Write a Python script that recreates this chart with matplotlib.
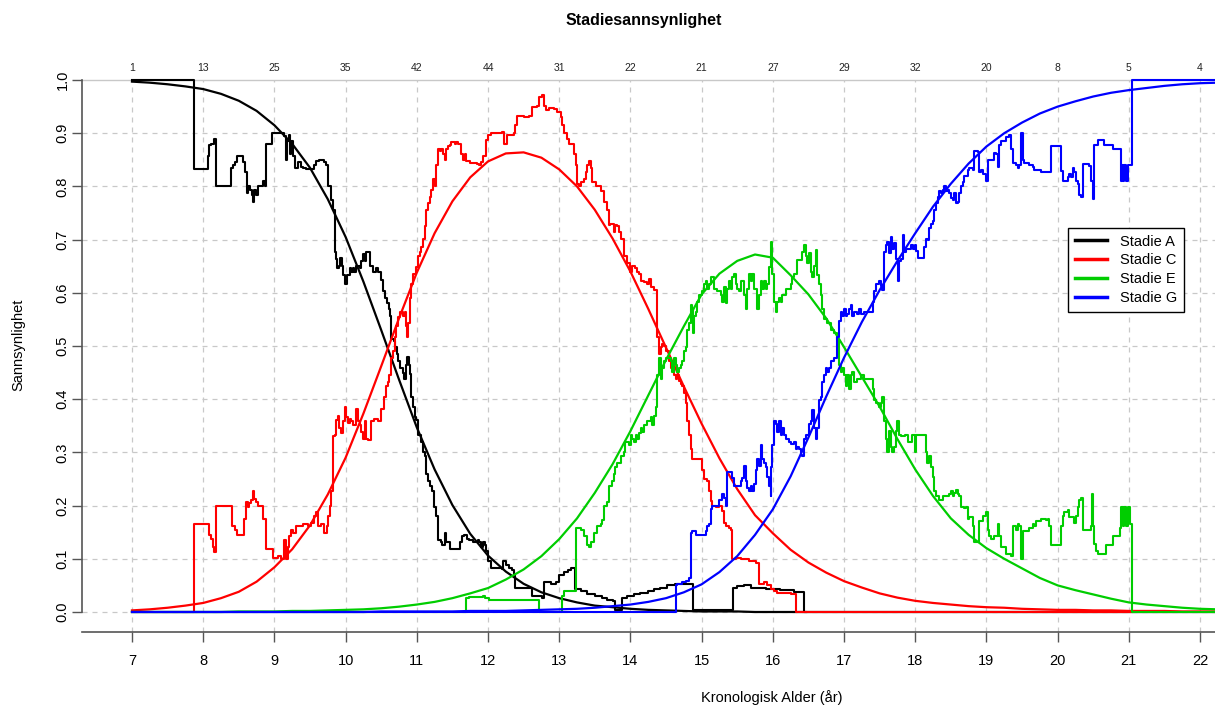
import numpy as np
import matplotlib
matplotlib.use('Agg')
import matplotlib.pyplot as plt
from matplotlib.lines import Line2D

plt.rcParams['font.family'] = ['Liberation Sans', 'DejaVu Sans']

# antall observasjoner per alder (øverst i plottet)
AGES = list(range(7, 23))
COUNTS = [1, 13, 25, 35, 42, 44, 31, 22, 21, 27, 29, 32, 20, 8, 5, 4]

STAGES = ['Stadie A', 'Stadie C', 'Stadie E', 'Stadie G']
COLORS = ['black', '#ff0000', '#00cd00', '#0000ff']

# modellkurver, avlest hvert kvartår fra 7 til 22.25 år
FIT_AGE = np.arange(7.0, 22.26, 0.25)
FIT_A = [0.997, 0.995, 0.992, 0.988, 0.983, 0.974, 0.961, 0.942, 0.915, 0.880,
         0.835, 0.776, 0.705, 0.621, 0.530, 0.437, 0.347, 0.268, 0.201, 0.147,
         0.106, 0.076, 0.053, 0.037, 0.026, 0.018, 0.012, 0.009, 0.006, 0.004,
         0.003, 0.002, 0.001, 0.001, 0.001, 0.0, 0.0, 0.0, 0.0, 0.0,
         0.0, 0.0, 0.0, 0.0, 0.0, 0.0, 0.0, 0.0, 0.0, 0.0,
         0.0, 0.0, 0.0, 0.0, 0.0, 0.0, 0.0, 0.0, 0.0, 0.0,
         0.0, 0.0]
FIT_C = [0.003, 0.005, 0.008, 0.012, 0.017, 0.026, 0.038, 0.057, 0.084, 0.118,
         0.163, 0.221, 0.290, 0.373, 0.462, 0.552, 0.638, 0.712, 0.772, 0.817,
         0.847, 0.862, 0.864, 0.854, 0.832, 0.800, 0.756, 0.702, 0.640, 0.570,
         0.497, 0.424, 0.354, 0.289, 0.231, 0.182, 0.148, 0.117, 0.093, 0.074,
         0.058, 0.046, 0.035, 0.027, 0.021, 0.017, 0.014, 0.011, 0.009, 0.008,
         0.006, 0.005, 0.004, 0.004, 0.003, 0.003, 0.002, 0.002, 0.002, 0.001,
         0.001, 0.001]
FIT_E = [0.0, 0.0, 0.0, 0.0, 0.0, 0.0, 0.001, 0.001, 0.001, 0.002,
         0.002, 0.003, 0.004, 0.005, 0.007, 0.010, 0.014, 0.019, 0.026, 0.035,
         0.045, 0.061, 0.080, 0.105, 0.137, 0.176, 0.224, 0.278, 0.340, 0.407,
         0.474, 0.537, 0.597, 0.636, 0.660, 0.672, 0.666, 0.633, 0.597, 0.552,
         0.498, 0.442, 0.386, 0.325, 0.268, 0.218, 0.176, 0.145, 0.120, 0.100,
         0.082, 0.064, 0.050, 0.041, 0.033, 0.025, 0.018, 0.014, 0.011, 0.008,
         0.006, 0.005]
FIT_G = [0.0, 0.0, 0.0, 0.0, 0.0, 0.0, 0.0, 0.0, 0.0, 0.0,
         0.0, 0.0, 0.0, 0.0, 0.001, 0.001, 0.001, 0.001, 0.001, 0.002,
         0.002, 0.002, 0.003, 0.004, 0.005, 0.006, 0.008, 0.011, 0.014, 0.019,
         0.026, 0.037, 0.052, 0.075, 0.105, 0.145, 0.193, 0.255, 0.328, 0.405,
         0.478, 0.545, 0.605, 0.660, 0.712, 0.762, 0.805, 0.843, 0.875, 0.900,
         0.920, 0.937, 0.950, 0.960, 0.969, 0.976, 0.981, 0.985, 0.989, 0.992,
         0.994, 0.995]

# glidende andeler (alder, andel), trappeform
STEP_A = [
    (7.0, 1.000), (7.876, 0.833), (8.063, 0.857), (8.087, 0.877), (8.11, 0.880),
    (8.15, 0.889), (8.18, 0.800), (8.39, 0.834), (8.414, 0.840), (8.44, 0.846),
    (8.48, 0.857), (8.56, 0.846), (8.59, 0.827), (8.61, 0.788), (8.625, 0.800),
    (8.66, 0.793), (8.68, 0.783), (8.705, 0.770), (8.72, 0.793), (8.74, 0.783),
    (8.765, 0.800), (8.84, 0.810), (8.87, 0.800), (8.88, 0.880), (8.96, 0.900),
    (9.14, 0.895), (9.16, 0.850), (9.18, 0.886), (9.20, 0.896), (9.22, 0.860),
    (9.24, 0.886), (9.26, 0.857), (9.29, 0.834), (9.33, 0.846), (9.37, 0.837),
    (9.40, 0.834), (9.445, 0.833), (9.515, 0.833), (9.56, 0.841), (9.59, 0.847),
    (9.625, 0.850), (9.70, 0.846), (9.73, 0.840), (9.75, 0.800), (9.79, 0.790),
    (9.80, 0.775), (9.83, 0.755), (9.845, 0.676), (9.87, 0.663), (9.883, 0.646),
    (9.905, 0.650), (9.925, 0.666), (9.95, 0.650), (9.963, 0.633), (9.995, 0.616),
    (10.02, 0.633), (10.056, 0.646), (10.08, 0.640), (10.10, 0.646), (10.125, 0.640),
    (10.15, 0.650), (10.20, 0.646), (10.22, 0.660), (10.244, 0.673), (10.27, 0.660),
    (10.29, 0.676), (10.347, 0.650), (10.38, 0.640), (10.42, 0.646), (10.45, 0.640),
    (10.50, 0.624), (10.525, 0.603), (10.56, 0.590), (10.585, 0.580), (10.61, 0.570),
    (10.63, 0.557), (10.64, 0.514), (10.68, 0.510), (10.70, 0.498), (10.72, 0.485),
    (10.735, 0.471), (10.76, 0.458), (10.806, 0.450), (10.82, 0.438), (10.843, 0.464),
    (10.867, 0.480), (10.885, 0.464), (10.90, 0.448), (10.923, 0.405), (10.946, 0.386),
    (10.97, 0.366), (10.993, 0.360), (11.016, 0.333), (11.063, 0.320), (11.087, 0.300),
    (11.11, 0.293), (11.133, 0.260), (11.157, 0.247), (11.18, 0.237), (11.213, 0.227),
    (11.237, 0.198), (11.274, 0.181), (11.297, 0.135), (11.34, 0.132), (11.36, 0.125),
    (11.39, 0.148), (11.41, 0.132), (11.46, 0.119), (11.61, 0.132), (11.635, 0.142),
    (11.66, 0.145), (11.70, 0.138), (11.74, 0.135), (11.79, 0.132), (11.86, 0.135),
    (11.88, 0.132), (11.906, 0.122), (11.93, 0.132), (11.953, 0.125), (11.977, 0.115),
    (12.0, 0.096), (12.047, 0.082), (12.19, 0.080), (12.21, 0.096), (12.25, 0.089),
    (12.30, 0.082), (12.34, 0.079), (12.363, 0.069), (12.386, 0.046), (12.62, 0.030),
    (12.76, 0.026), (12.785, 0.056), (12.88, 0.053), (12.95, 0.056), (12.995, 0.069),
    (13.066, 0.076), (13.12, 0.079), (13.17, 0.082), (13.215, 0.043), (13.30, 0.040),
    (13.39, 0.033), (13.50, 0.030), (13.60, 0.026), (13.67, 0.023), (13.75, 0.020),
    (13.79, 0.003), (13.885, 0.026), (13.95, 0.030), (14.05, 0.033), (14.14, 0.036),
    (14.24, 0.040), (14.33, 0.043), (14.42, 0.046), (14.52, 0.050), (14.63, 0.053),
    (14.88, 0.003), (15.44, 0.046), (15.50, 0.049), (15.60, 0.050), (15.70, 0.046),
    (15.90, 0.044), (16.10, 0.042), (16.30, 0.038), (16.44, 0.000), (16.46, 0.000),
]
STEP_C = [
    (7.0, 0.000), (7.876, 0.166), (8.077, 0.145), (8.11, 0.138), (8.133, 0.122),
    (8.157, 0.112), (8.18, 0.199), (8.40, 0.162), (8.44, 0.155), (8.48, 0.145),
    (8.58, 0.175), (8.60, 0.207), (8.625, 0.197), (8.65, 0.204), (8.67, 0.210),
    (8.695, 0.227), (8.72, 0.213), (8.74, 0.207), (8.765, 0.199), (8.836, 0.175),
    (8.883, 0.119), (8.986, 0.102), (9.047, 0.105), (9.09, 0.099), (9.14, 0.135),
    (9.16, 0.099), (9.187, 0.122), (9.21, 0.142), (9.234, 0.155), (9.26, 0.148),
    (9.30, 0.162), (9.40, 0.165), (9.47, 0.162), (9.515, 0.168), (9.56, 0.181),
    (9.585, 0.188), (9.61, 0.162), (9.65, 0.165), (9.69, 0.148), (9.738, 0.162),
    (9.752, 0.181), (9.775, 0.200), (9.80, 0.227), (9.824, 0.330), (9.85, 0.333),
    (9.87, 0.360), (9.89, 0.369), (9.91, 0.346), (9.94, 0.336), (9.963, 0.359),
    (9.986, 0.386), (10.01, 0.366), (10.03, 0.356), (10.056, 0.362), (10.08, 0.359),
    (10.10, 0.352), (10.15, 0.382), (10.17, 0.359), (10.20, 0.352), (10.22, 0.339),
    (10.244, 0.326), (10.27, 0.359), (10.29, 0.326), (10.31, 0.323), (10.36, 0.359),
    (10.40, 0.362), (10.45, 0.359), (10.50, 0.382), (10.545, 0.405), (10.571, 0.425),
    (10.60, 0.432), (10.61, 0.445), (10.632, 0.478), (10.66, 0.491), (10.689, 0.517),
    (10.71, 0.537), (10.735, 0.554), (10.759, 0.564), (10.81, 0.557), (10.835, 0.564),
    (10.85, 0.537), (10.862, 0.517), (10.88, 0.544), (10.90, 0.590), (10.923, 0.616),
    (10.946, 0.636), (10.993, 0.649), (11.016, 0.669), (11.04, 0.676), (11.063, 0.686),
    (11.087, 0.702), (11.11, 0.725), (11.133, 0.755), (11.157, 0.768), (11.18, 0.781),
    (11.204, 0.794), (11.227, 0.814), (11.25, 0.800), (11.264, 0.820), (11.274, 0.840),
    (11.297, 0.870), (11.32, 0.867), (11.345, 0.870), (11.37, 0.860), (11.39, 0.850),
    (11.405, 0.870), (11.44, 0.876), (11.461, 0.877), (11.485, 0.883), (11.53, 0.880),
    (11.555, 0.883), (11.58, 0.880), (11.625, 0.860), (11.65, 0.850), (11.672, 0.860),
    (11.695, 0.847), (11.742, 0.844), (11.84, 0.843), (11.88, 0.840), (11.906, 0.846),
    (11.93, 0.857), (11.977, 0.887), (12.0, 0.896), (12.047, 0.900), (12.20, 0.903),
    (12.222, 0.880), (12.27, 0.896), (12.363, 0.900), (12.386, 0.916), (12.41, 0.933),
    (12.50, 0.930), (12.57, 0.933), (12.62, 0.950), (12.69, 0.952), (12.714, 0.969),
    (12.76, 0.972), (12.785, 0.952), (12.81, 0.943), (12.86, 0.948), (12.93, 0.946),
    (12.97, 0.940), (13.02, 0.930), (13.04, 0.916), (13.066, 0.900), (13.11, 0.890),
    (13.136, 0.880), (13.206, 0.860), (13.23, 0.840), (13.253, 0.804), (13.28, 0.801),
    (13.30, 0.808), (13.347, 0.814), (13.37, 0.828), (13.394, 0.840), (13.417, 0.847),
    (13.44, 0.834), (13.464, 0.808), (13.51, 0.801), (13.558, 0.800), (13.58, 0.791),
    (13.628, 0.771), (13.67, 0.755), (13.698, 0.728), (13.72, 0.730), (13.768, 0.715),
    (13.79, 0.728), (13.815, 0.725), (13.84, 0.715), (13.862, 0.702), (13.909, 0.669),
    (13.955, 0.656), (14.0, 0.640), (14.025, 0.650), (14.07, 0.646), (14.096, 0.640),
    (14.12, 0.636), (14.143, 0.623), (14.19, 0.620), (14.237, 0.616), (14.26, 0.626),
    (14.283, 0.610), (14.33, 0.606), (14.377, 0.517), (14.40, 0.485), (14.424, 0.498),
    (14.447, 0.504), (14.47, 0.500), (14.494, 0.490), (14.517, 0.491), (14.54, 0.471),
    (14.564, 0.458), (14.588, 0.465), (14.611, 0.445), (14.635, 0.438), (14.66, 0.445),
    (14.68, 0.435), (14.705, 0.428), (14.73, 0.425), (14.752, 0.412), (14.775, 0.392),
    (14.80, 0.359), (14.822, 0.333), (14.845, 0.307), (14.869, 0.287), (15.01, 0.267),
    (15.03, 0.250), (15.08, 0.247), (15.10, 0.227), (15.127, 0.208), (15.15, 0.200),
    (15.20, 0.197), (15.245, 0.200), (15.29, 0.190), (15.31, 0.168), (15.337, 0.162),
    (15.39, 0.158), (15.417, 0.155), (15.43, 0.099), (15.48, 0.102), (15.56, 0.099),
    (15.665, 0.096), (15.76, 0.092), (15.806, 0.053), (15.88, 0.056), (15.92, 0.050),
    (15.97, 0.043), (16.02, 0.040), (16.06, 0.036), (16.15, 0.035), (16.25, 0.033),
    (16.32, 0.000), (21.04, 0.000),
]
STEP_E = [
    (7.0, 0.000), (11.696, 0.026), (11.74, 0.028), (11.93, 0.030), (11.953, 0.026),
    (12.02, 0.023), (12.714, 0.000), (13.042, 0.030), (13.066, 0.040), (13.23, 0.158),
    (13.30, 0.155), (13.347, 0.142), (13.39, 0.125), (13.417, 0.122), (13.44, 0.132),
    (13.49, 0.148), (13.534, 0.162), (13.58, 0.165), (13.604, 0.172), (13.628, 0.200),
    (13.675, 0.207), (13.698, 0.237), (13.745, 0.247), (13.768, 0.260), (13.79, 0.273),
    (13.815, 0.280), (13.862, 0.293), (13.909, 0.300), (13.93, 0.320), (13.98, 0.313),
    (14.002, 0.333), (14.025, 0.326), (14.05, 0.320), (14.072, 0.333), (14.096, 0.326),
    (14.12, 0.336), (14.143, 0.346), (14.166, 0.339), (14.19, 0.352), (14.237, 0.359),
    (14.283, 0.366), (14.307, 0.352), (14.33, 0.369), (14.354, 0.385), (14.377, 0.445),
    (14.401, 0.478), (14.424, 0.438), (14.447, 0.458), (14.47, 0.471), (14.494, 0.478),
    (14.564, 0.471), (14.588, 0.452), (14.61, 0.478), (14.635, 0.465), (14.66, 0.452),
    (14.68, 0.458), (14.705, 0.465), (14.73, 0.471), (14.752, 0.491), (14.775, 0.498),
    (14.80, 0.531), (14.822, 0.544), (14.845, 0.577), (14.869, 0.570), (14.883, 0.524),
    (14.90, 0.557), (14.92, 0.564), (14.94, 0.583), (14.96, 0.596), (15.009, 0.603),
    (15.03, 0.616), (15.056, 0.623), (15.08, 0.607), (15.10, 0.616), (15.127, 0.629),
    (15.17, 0.607), (15.22, 0.603), (15.27, 0.596), (15.29, 0.583), (15.31, 0.610),
    (15.337, 0.580), (15.36, 0.607), (15.384, 0.623), (15.41, 0.607), (15.43, 0.629),
    (15.454, 0.636), (15.48, 0.616), (15.50, 0.607), (15.525, 0.603), (15.55, 0.623),
    (15.595, 0.596), (15.618, 0.570), (15.64, 0.607), (15.665, 0.636), (15.69, 0.623),
    (15.71, 0.636), (15.735, 0.607), (15.782, 0.570), (15.806, 0.596), (15.83, 0.623),
    (15.853, 0.607), (15.876, 0.623), (15.90, 0.607), (15.923, 0.616), (15.946, 0.649),
    (15.97, 0.695), (15.993, 0.636), (16.016, 0.583), (16.04, 0.564), (16.063, 0.583),
    (16.087, 0.590), (16.11, 0.583), (16.134, 0.596), (16.18, 0.607), (16.25, 0.616),
    (16.274, 0.629), (16.30, 0.636), (16.344, 0.662), (16.414, 0.676), (16.438, 0.689),
    (16.46, 0.669), (16.485, 0.656), (16.51, 0.675), (16.53, 0.640), (16.555, 0.630),
    (16.58, 0.650), (16.60, 0.680), (16.625, 0.633), (16.65, 0.616), (16.672, 0.596),
    (16.695, 0.570), (16.719, 0.550), (16.766, 0.543), (16.813, 0.530), (16.86, 0.524),
    (16.906, 0.511), (16.93, 0.465), (16.953, 0.452), (16.976, 0.458), (17.0, 0.445),
    (17.023, 0.425), (17.047, 0.445), (17.07, 0.419), (17.094, 0.445), (17.117, 0.452),
    (17.14, 0.432), (17.187, 0.438), (17.233, 0.445), (17.28, 0.438), (17.40, 0.420),
    (17.42, 0.399), (17.445, 0.392), (17.49, 0.385), (17.518, 0.392), (17.54, 0.405),
    (17.56, 0.359), (17.585, 0.326), (17.61, 0.300), (17.635, 0.340), (17.66, 0.310),
    (17.68, 0.300), (17.70, 0.310), (17.73, 0.340), (17.75, 0.359), (17.775, 0.333),
    (17.80, 0.330), (17.85, 0.333), (17.90, 0.320), (17.94, 0.319), (17.96, 0.333),
    (17.99, 0.300), (18.01, 0.333), (18.13, 0.333), (18.15, 0.300), (18.17, 0.280),
    (18.20, 0.293), (18.22, 0.273), (18.244, 0.254), (18.27, 0.228), (18.29, 0.218),
    (18.34, 0.211), (18.385, 0.218), (18.47, 0.221), (18.50, 0.228), (18.525, 0.218),
    (18.55, 0.224), (18.571, 0.230), (18.595, 0.221), (18.618, 0.218), (18.642, 0.198),
    (18.69, 0.195), (18.712, 0.198), (18.735, 0.175), (18.76, 0.178), (18.806, 0.162),
    (18.829, 0.132), (18.876, 0.132), (18.90, 0.171), (18.946, 0.181), (18.993, 0.188),
    (19.016, 0.155), (19.04, 0.142), (19.063, 0.138), (19.11, 0.142), (19.157, 0.165),
    (19.18, 0.142), (19.204, 0.122), (19.274, 0.109), (19.344, 0.105), (19.368, 0.162),
    (19.414, 0.155), (19.438, 0.165), (19.46, 0.162), (19.485, 0.099), (19.508, 0.152),
    (19.60, 0.158), (19.648, 0.165), (19.672, 0.162), (19.696, 0.171), (19.765, 0.175),
    (19.836, 0.172), (19.86, 0.175), (19.883, 0.162), (19.906, 0.125), (20.047, 0.162),
    (20.07, 0.181), (20.094, 0.188), (20.14, 0.191), (20.164, 0.178), (20.235, 0.168),
    (20.258, 0.181), (20.282, 0.198), (20.305, 0.211), (20.33, 0.214), (20.352, 0.155),
    (20.47, 0.162), (20.484, 0.221), (20.50, 0.162), (20.516, 0.128), (20.54, 0.115),
    (20.563, 0.109), (20.68, 0.125), (20.775, 0.142), (20.869, 0.158), (20.892, 0.198),
    (20.915, 0.162), (20.939, 0.198), (20.962, 0.162), (20.986, 0.198), (21.01, 0.165),
    (21.042, 0.000), (22.3, 0.000),
]
STEP_G = [
    (7.0, 0.000), (14.635, 0.050), (14.66, 0.053), (14.73, 0.056), (14.775, 0.059),
    (14.822, 0.063), (14.845, 0.148), (14.87, 0.152), (14.916, 0.145), (15.056, 0.152),
    (15.08, 0.162), (15.103, 0.165), (15.127, 0.194), (15.15, 0.200), (15.244, 0.210),
    (15.29, 0.221), (15.31, 0.214), (15.337, 0.200), (15.351, 0.264), (15.43, 0.251),
    (15.454, 0.237), (15.548, 0.247), (15.57, 0.251), (15.595, 0.274), (15.618, 0.247),
    (15.64, 0.234), (15.665, 0.227), (15.69, 0.237), (15.71, 0.227), (15.735, 0.240),
    (15.759, 0.267), (15.782, 0.287), (15.806, 0.274), (15.829, 0.313), (15.853, 0.287),
    (15.876, 0.280), (15.90, 0.273), (15.923, 0.254), (15.946, 0.237), (15.97, 0.218),
    (15.98, 0.273), (15.993, 0.313), (16.016, 0.359), (16.04, 0.353), (16.063, 0.339),
    (16.087, 0.359), (16.11, 0.333), (16.134, 0.346), (16.157, 0.333), (16.18, 0.326),
    (16.227, 0.319), (16.25, 0.316), (16.297, 0.319), (16.32, 0.306), (16.344, 0.310),
    (16.368, 0.306), (16.39, 0.296), (16.415, 0.293), (16.438, 0.326), (16.46, 0.333),
    (16.508, 0.353), (16.532, 0.359), (16.555, 0.379), (16.578, 0.346), (16.60, 0.326),
    (16.625, 0.346), (16.65, 0.399), (16.672, 0.405), (16.695, 0.432), (16.719, 0.445),
    (16.742, 0.458), (16.766, 0.452), (16.79, 0.458), (16.813, 0.471), (16.86, 0.478),
    (16.906, 0.517), (16.93, 0.547), (16.953, 0.564), (16.976, 0.557), (17.0, 0.570),
    (17.023, 0.557), (17.047, 0.560), (17.07, 0.570), (17.094, 0.577), (17.117, 0.557),
    (17.14, 0.564), (17.187, 0.560), (17.21, 0.570), (17.233, 0.560), (17.281, 0.564),
    (17.40, 0.583), (17.422, 0.603), (17.445, 0.616), (17.49, 0.623), (17.515, 0.613),
    (17.54, 0.606), (17.562, 0.676), (17.585, 0.689), (17.61, 0.695), (17.635, 0.675),
    (17.659, 0.705), (17.68, 0.683), (17.705, 0.693), (17.73, 0.663), (17.752, 0.623),
    (17.776, 0.659), (17.80, 0.663), (17.823, 0.709), (17.846, 0.676), (17.87, 0.683),
    (17.94, 0.689), (17.964, 0.683), (17.99, 0.689), (18.01, 0.679), (18.033, 0.666),
    (18.127, 0.686), (18.15, 0.702), (18.173, 0.699), (18.197, 0.722), (18.22, 0.729),
    (18.244, 0.735), (18.267, 0.755), (18.29, 0.768), (18.314, 0.781), (18.337, 0.791),
    (18.36, 0.788), (18.384, 0.794), (18.407, 0.801), (18.43, 0.791), (18.455, 0.794),
    (18.478, 0.788), (18.50, 0.778), (18.525, 0.775), (18.55, 0.788), (18.571, 0.768),
    (18.595, 0.771), (18.618, 0.788), (18.642, 0.801), (18.665, 0.808), (18.69, 0.820),
    (18.735, 0.830), (18.76, 0.834), (18.806, 0.831), (18.829, 0.867), (18.876, 0.864),
    (18.90, 0.827), (18.923, 0.830), (18.946, 0.824), (18.993, 0.810), (19.016, 0.850),
    (19.11, 0.863), (19.134, 0.860), (19.157, 0.837), (19.18, 0.877), (19.204, 0.886),
    (19.274, 0.893), (19.32, 0.896), (19.344, 0.870), (19.368, 0.844), (19.414, 0.840),
    (19.438, 0.834), (19.46, 0.840), (19.485, 0.900), (19.508, 0.850), (19.53, 0.844),
    (19.60, 0.840), (19.648, 0.837), (19.672, 0.831), (19.765, 0.827), (19.906, 0.876),
    (20.047, 0.829), (20.07, 0.810), (20.14, 0.817), (20.164, 0.824), (20.187, 0.817),
    (20.211, 0.834), (20.235, 0.827), (20.258, 0.810), (20.282, 0.804), (20.305, 0.784),
    (20.329, 0.780), (20.352, 0.843), (20.446, 0.838), (20.47, 0.810), (20.493, 0.777),
    (20.516, 0.878), (20.563, 0.888), (20.657, 0.878), (20.775, 0.870), (20.883, 0.810),
    (20.90, 0.840), (20.915, 0.810), (20.939, 0.840), (20.962, 0.810), (20.986, 0.840),
    (21.042, 1.000), (22.3, 1.000),
]

fig = plt.figure(figsize=(12.15, 7.08), dpi=100)
ax = fig.add_axes([82 / 1215, 1 - 632 / 708, 1 - 82 / 1215, (632 - 59) / 708])
ax.set_xlim(6.298, 22.21)
ax.set_ylim(-0.0376, 1.0395)

# rutenett
grid_kw = dict(color='#c8c8c8', lw=0.9, ls=(0, (4, 4)), zorder=0)
for v in np.arange(0.0, 0.95, 0.1):
    ax.axhline(v, **grid_kw)
ax.axhline(1.0, color='#c8c8c8', lw=1.0, zorder=0)
for a in AGES:
    ax.plot([a, a], [-0.0376, 1.0], **grid_kw)

# antall per aldersgruppe
for a, n in zip(AGES, COUNTS):
    ax.text(a, 1.022, str(n), ha='center', va='center', fontsize=7.5, color='#222222')

fits = [FIT_A, FIT_C, FIT_E, FIT_G]
steps = [STEP_A, STEP_C, STEP_E, STEP_G]
for fit, step, col in zip(fits, steps, COLORS):
    sx, sy = zip(*step)
    ax.plot(sx, sy, drawstyle='steps-post', color=col, lw=1.5, zorder=2)
    ax.plot(FIT_AGE, fit, color=col, lw=1.6, zorder=2)

# akser
for side in ['top', 'right']:
    ax.spines[side].set_visible(False)
ax.spines['left'].set_bounds(0, 1)
for side in ['left', 'bottom']:
    ax.spines[side].set_color('#555555')
    ax.spines[side].set_linewidth(1.2)

ax.set_xticks(AGES)
ax.set_xticklabels([str(a) for a in AGES])
yt = np.round(np.arange(0, 1.01, 0.1), 1)
ax.set_yticks(yt)
ax.set_yticklabels([f'{v:.1f}' for v in yt], rotation=90, va='center')
ax.tick_params(axis='x', direction='out', length=7, width=1, color='#555555', pad=9, labelsize=10.5)
ax.tick_params(axis='y', direction='out', length=7, width=1, color='#555555', pad=2, labelsize=10.5)

fig.text(644 / 1215, 1 - 20 / 708, 'Stadiesannsynlighet', ha='center', va='center',
         fontsize=11.5, weight='bold')
fig.text(772 / 1215, 1 - 698 / 708, 'Kronologisk Alder (år)', ha='center', va='center',
         fontsize=10.5)
fig.text(18 / 1215, 1 - 345 / 708, 'Sannsynlighet', rotation=90, ha='center', va='center',
         fontsize=10.5)

handles = [Line2D([0], [0], color=c, lw=2.5) for c in COLORS]
leg = ax.legend(handles, STAGES, loc='upper left', bbox_to_anchor=(1068 / 1215, 1 - 228 / 708),
                bbox_transform=fig.transFigure, frameon=True, fancybox=False, framealpha=1,
                edgecolor='black', fontsize=10.5, handlelength=2.2, handletextpad=0.9,
                borderpad=0.45, labelspacing=0.33, borderaxespad=0)
leg.get_frame().set_linewidth(1.0)

fig.savefig('out.png', dpi=100)
